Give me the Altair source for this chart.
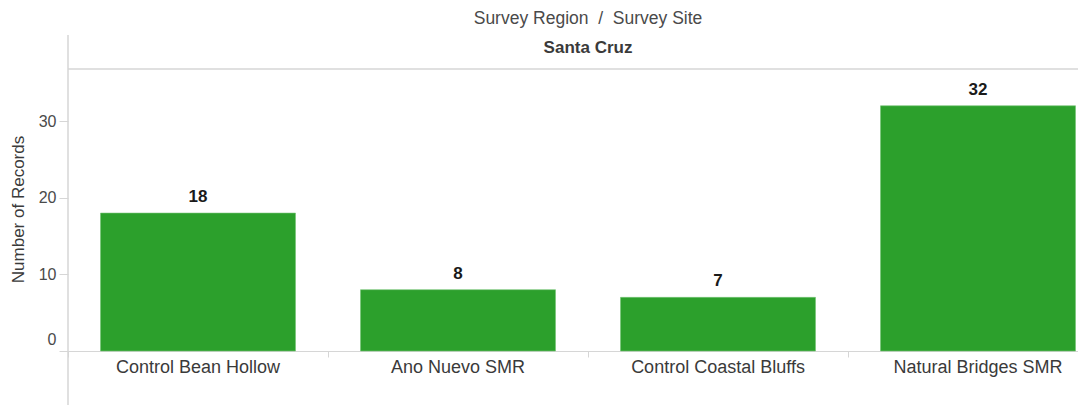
import altair as alt
import pandas as pd

# ---- data ----
region = ["Santa Cruz"]
sites = ["Control Bean Hollow", "Ano Nuevo SMR", "Control Coastal Bluffs", "Natural Bridges SMR"]
records = [18, 8, 7, 32]
y_ticks = [0, 10, 20, 30]
header_title = "Survey Region\u00a0 /\u00a0 Survey Site"
y_title = "Number of Records"

FONT = "Liberation Sans"
LINE = "#d6d6d6"

df = pd.DataFrame({"site": sites, "records": records})

x_enc = alt.X(
    "site:N",
    sort=sites,
    scale=alt.Scale(domain=sites, range=[0, 1040], paddingInner=0, paddingOuter=0),
    axis=alt.Axis(
        title=None, bandPosition=0, tickSize=6, tickColor=LINE, domainColor=LINE,
        labelFontSize=18, labelColor="#3a3a3a", labelFont=FONT, labelPadding=10,
        labelBaseline="middle", labelAngle=0, grid=False,
    ),
)
y_enc = alt.Y(
    "records:Q",
    scale=alt.Scale(domain=[0, 36.8], nice=False, zero=True),
    axis=alt.Axis(
        values=y_ticks, title=y_title, titleFontSize=17, titleFontWeight="normal",
        titleColor="#3a3a3a", titleFont=FONT, titleX=-50, titleY=140, titleAngle=270,
        titleAlign="center", titleBaseline="middle", tickSize=9, tickColor=LINE,
        domain=False, grid=False, labelFontSize=16, labelColor="#4a4a4a", labelFont=FONT,
        labelPadding=3, labelFlush=False,
        labelOffset={"condition": {"test": "datum.value == 0", "value": -12}, "value": 0},
    ),
)

bars = alt.Chart(df).mark_bar(
    width=alt.RelativeBandSize(0.75), color="#2ca02c", stroke="#74c374", strokeWidth=0.6
).encode(x=x_enc, y=y_enc)

labels = alt.Chart(df).mark_text(
    font=FONT, fontSize=17, fontWeight="bold", color="#1a1a1a", dy=-16, baseline="middle"
).encode(x=alt.X("site:N", sort=sites), y="records:Q", text="records:Q")

one = pd.DataFrame({"a": [0]})
top_line = alt.Chart(one).mark_rule(color=LINE, strokeWidth=1.5).encode(
    x=alt.value(0), x2=alt.value(1040), y=alt.value(0)
)
left_line = alt.Chart(one).mark_rule(color=LINE, strokeWidth=1.5).encode(
    x=alt.value(0), y=alt.value(-34), y2=alt.value(340)
)

title_txt = alt.Chart(pd.DataFrame({"t": [header_title]})).mark_text(
    font=FONT, fontSize=17.5, color="#4a4a4a", baseline="middle", align="center"
).encode(x=alt.value(520), y=alt.value(-50.5), text="t:N")

region_txt = alt.Chart(pd.DataFrame({"r": region})).mark_text(
    font=FONT, fontSize=17, fontWeight="bold", color="#3a3a3a", baseline="middle", align="center"
).encode(x=alt.value(520), y=alt.value(-21), text="r:N")

chart = alt.layer(bars, labels, top_line, left_line, title_txt, region_txt).properties(
    width=1010,
    height=282,
    autosize=alt.AutoSizeParams(type="none"),
    padding={"left": 60, "top": 61, "right": 0, "bottom": 54},
).configure_view(stroke=None)

chart.save("out.html", embed_options={"renderer": "svg", "actions": False})
